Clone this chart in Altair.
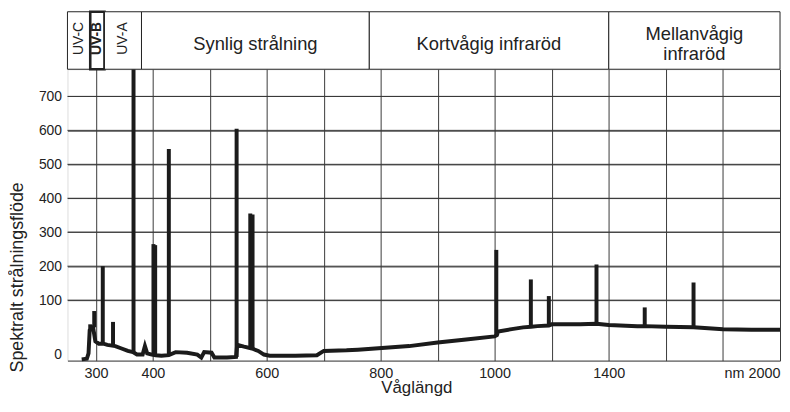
import altair as alt
import pandas as pd

# ---------------- data ----------------
# continuum of the spectrum (nm, relative radiant flux)
cont_wl = [275, 284, 287, 289, 295, 299, 305, 313, 320, 334, 345, 356, 365, 372, 382, 386,
           390, 398, 405, 415, 428, 440, 460, 478, 485, 490, 503, 508, 530, 546, 548, 560,
           574, 585, 595, 605, 650, 688, 700, 740, 760, 790, 850, 900, 950, 1000, 1008,
           1012, 1060, 1100, 1128, 1150, 1190, 1200, 1300, 1357, 1400, 1500, 1526, 1600,
           1697, 1800, 1900, 2000]
cont_val = [2, 3, 12, 50, 55, 32, 28, 28, 26, 24, 20, 16, 14, 10, 10, 24,
            12, 10, 9, 8, 9, 14, 13, 10, 5, 14, 13, 5, 5, 6, 26, 23,
            20, 16, 10, 8, 8, 9, 16, 17, 18, 20, 24, 30, 35, 40, 42,
            48, 52, 55, 56, 57, 58, 60, 60, 61, 59, 57, 57, 56,
            55, 52, 51, 51]

# emission lines: position, top value, foot value
peak_wl = [290, 297, 312, 330, 366, 401, 404, 428, 547, 571, 575, 1006, 1127, 1190, 1357, 1526, 1697]
peak_val = [60, 82, 200, 64, 780, 265, 262, 545, 605, 355, 352, 248, 161, 112, 205, 88, 152]
peak_foot = [50, 55, 28, 24, 14, 9, 9, 9, 6, 20, 20, 42, 56, 58, 61, 57, 55]

# spectral regions in the header band
reg_start = [250, 290, 315, 380, 780, 1400]
reg_end = [290, 315, 380, 780, 1400, 2000]
reg_label = ["UV-C", "UV-B", "UV-A", "Synlig strålning", "Kortvågig infraröd", "Mellanvågig\ninfraröd"]

x_ticks = [300, 400, 500, 600, 700, 800, 900, 1000, 1200, 1400, 1600, 1800, 2000]
x_shown = [300, 400, 600, 800, 1000, 1400]
y_ticks = [0, 100, 200, 300, 400, 500, 600, 700]
y_title = ["Spektralt strålningsflöde"]

# ---------------- tables ----------------
cont = pd.DataFrame({"wl": cont_wl, "val": cont_val})
peaks = pd.DataFrame({"wl": peak_wl, "top": peak_val, "foot": peak_foot})
ygrid = pd.DataFrame({"v": y_ticks[1:]})
ytitle = pd.DataFrame({"t": y_title})


def pos(v):  # axis is broken at 1000 nm: 100 nm per division below, 200 nm above
    return v if v <= 1000 else 1000 + (v - 1000) / 2


def unpos(p):
    return p if p <= 1000 else 1000 + 2 * (p - 1000)


regions = pd.DataFrame({
    "start": reg_start,
    "end": reg_end,
    "label": reg_label,
    "mid": [unpos((pos(a) + pos(b)) / 2) for a, b in zip(reg_start, reg_end)],
})

# ---------------- scales / axes ----------------
W, H = 719, 294
FONT = "Liberation Sans"
INK = "#1b1b1b"
GRID = "#3a3a3a"

xs = alt.Scale(domain=[250, 1000, 2000], range=[0, 431, W], nice=False, zero=False)
ys = alt.Scale(domain=[0, 100, 780], range=[H, H - 61, 0], nice=False, zero=False)

xaxis = alt.Axis(
    values=x_ticks, format="d", title="Våglängd",
    labelExpr="datum.value == 2000 ? 'nm 2000' : (indexof(%s, datum.value) >= 0 ? datum.label : '')" % str(x_shown),
    labelAlign={"condition": {"test": "datum.value == 2000", "value": "right"}, "value": "center"},
    labelFlush=False, labelOverlap=False, ticks=False, domain=False,
    grid=True, gridColor=GRID, gridWidth=1,
    labelFont=FONT, labelFontSize=14.5, labelColor="#222", labelPadding=6,
    titleFont=FONT, titleFontSize=17, titleFontWeight="normal", titleColor="#222",
    titleX=352, titleY=27, titleBaseline="middle",
)
yaxis = alt.Axis(
    values=y_ticks, title=None,
    ticks=False, domain=False, grid=True, gridColor=GRID, gridWidth=1,
    labelFont=FONT, labelFontSize=14, labelColor="#222", labelPadding=6,
    labelOffset={"condition": {"test": "datum.value == 0", "value": -6}, "value": 0},
)

# ---------------- layers ----------------
hgrid = alt.Chart(ygrid).mark_rule(color=GRID, strokeWidth=1).encode(
    y=alt.Y("v:Q", scale=ys, axis=yaxis),
)

line = alt.Chart(cont).mark_line(color=INK, strokeWidth=4, strokeJoin="miter").encode(
    x=alt.X("wl:Q", scale=xs, axis=xaxis),
    y=alt.Y("val:Q", scale=ys, axis=yaxis),
)

spikes = alt.Chart(peaks).mark_rule(color=INK, strokeWidth=4, strokeCap="butt").encode(
    x=alt.X("wl:Q", scale=xs, axis=xaxis),
    y=alt.Y("foot:Q", scale=ys, axis=yaxis),
    y2="top:Q",
)

band = alt.Chart(regions).mark_rect(fill="white", stroke="#222").encode(
    x=alt.X("start:Q", scale=xs, axis=xaxis),
    x2="end:Q",
    y=alt.value(-58),
    y2=alt.value(0),
    strokeWidth=alt.condition("datum.label == 'UV-B'", alt.value(2.6), alt.value(1)),
)


def uv_layer(test, weight):
    return alt.Chart(regions).transform_filter(test).mark_text(
        angle=270, font=FONT, fontSize=14, color="#222", baseline="middle", align="center",
        fontWeight=weight,
    ).encode(
        x=alt.X("mid:Q", scale=xs, axis=xaxis),
        y=alt.value(-31),
        text="label:N",
    )


def reg_layer(test, ypix):
    return alt.Chart(regions).transform_filter(test).mark_text(
        font=FONT, fontSize=18.5, color="#222", baseline="middle", align="center",
        lineBreak="\n", lineHeight=21,
    ).encode(
        x=alt.X("mid:Q", scale=xs, axis=xaxis),
        y=alt.value(ypix),
        text="label:N",
    )


uv_text = uv_layer("indexof(datum.label, 'UV') == 0 && datum.label != 'UV-B'", "normal")
uvb_text = uv_layer("datum.label == 'UV-B'", "bold")
one_line = reg_layer("indexof(datum.label, 'UV') != 0 && indexof(datum.label, '\\n') < 0", -25)
two_line = reg_layer("indexof(datum.label, '\\n') >= 0", -36)

ylab = alt.Chart(ytitle).mark_text(
    angle=270, font=FONT, fontSize=18, color="#222", baseline="middle", align="center",
).encode(x=alt.value(-50), y=alt.value(210), text="t:N")

chart = alt.layer(hgrid, line, spikes, band, uv_text, uvb_text, one_line, two_line, ylab).properties(
    width=W, height=H,
    autosize=alt.AutoSizeParams(type="none"),
    padding={"left": 60, "top": 60, "right": 2, "bottom": 42},
).configure_view(stroke="#111", strokeWidth=1.2).configure(font=FONT)

chart.save("out.html", embed_options={"renderer": "svg", "actions": False})
